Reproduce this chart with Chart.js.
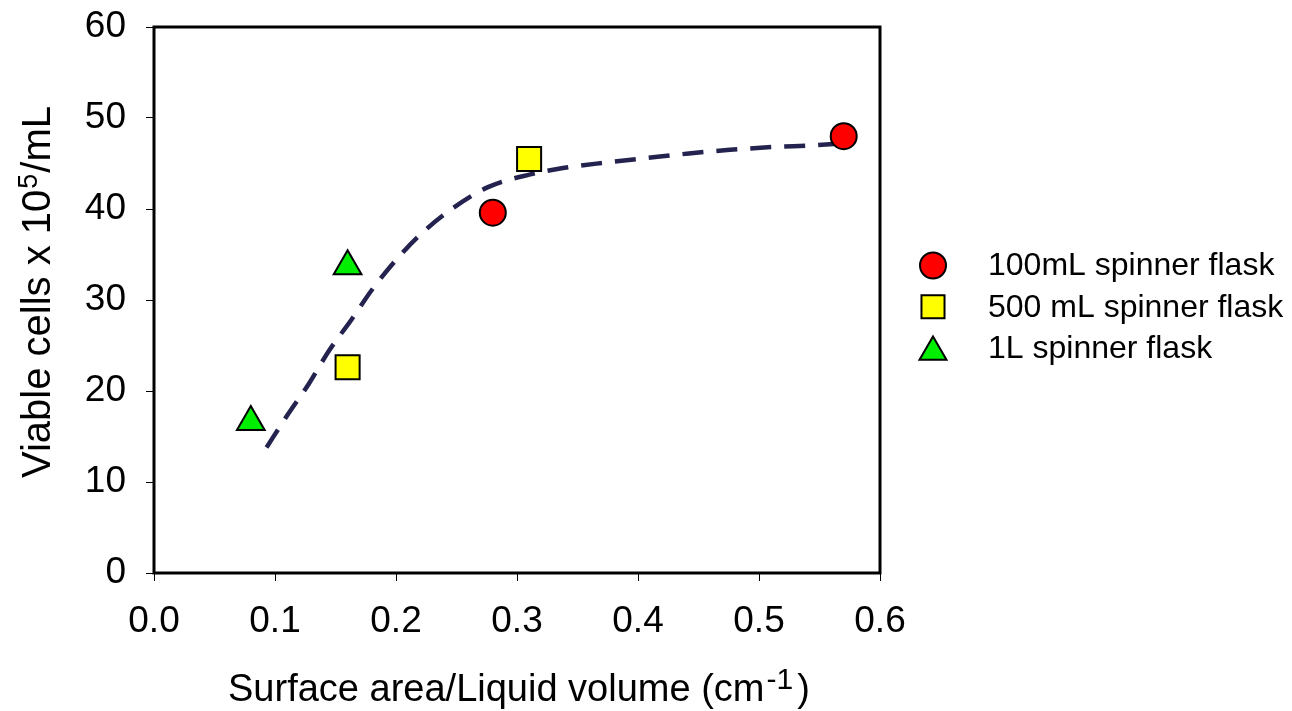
<!DOCTYPE html>
<html>
<head>
<meta charset="utf-8">
<script src="https://cdn.jsdelivr.net/npm/chart.js@4.4.1/dist/chart.umd.min.js"></script>
<style>
  body { margin: 0; background: #fff; }
</style>
</head>
<body>
<canvas id="chartFlask" width="1292" height="711"></canvas>
<script>
  // data
  const seriesNames = ['100mL spinner flask', '500 mL spinner flask', '1L spinner flask'];
  const flask100X = [0.28, 0.57];
  const flask100Y = [39.6, 48.0];
  const flask500X = [0.31, 0.16];
  const flask500Y = [45.5, 22.6];
  const flask1LX = [0.08, 0.16];
  const flask1LY = [16.6, 33.7];

  // dashed fitted curve
  const fitX = [0.093, 0.111, 0.128, 0.145, 0.163, 0.180, 0.200, 0.221, 0.245, 0.276, 0.311, 0.338, 0.373, 0.407, 0.442, 0.476, 0.510, 0.545, 0.570];
  const fitY = [13.8, 17.5, 20.8, 24.5, 27.8, 31.1, 34.4, 37.3, 39.9, 42.4, 43.8, 44.5, 45.1, 45.6, 46.1, 46.5, 46.8, 47.0, 47.2];

  const xTicks = [0, 0.1, 0.2, 0.3, 0.4, 0.5, 0.6];
  const yTicks = [0, 10, 20, 30, 40, 50, 60];

  const FONT = '"Liberation Sans", Arial, sans-serif';

  const pts = (xs, ys) => xs.map((x, i) => ({ x: x, y: ys[i] }));

  // text with superscript pieces, left aligned, baseline at y
  function drawRich(ctx, parts, x, y, size, supSize, rise) {
    let cx = x;
    parts.forEach(p => {
      ctx.font = (p.sup ? supSize : size) + 'px ' + FONT;
      cx += p.before || 0;
      ctx.fillText(p.t, cx, p.sup ? y - rise : y);
      cx += ctx.measureText(p.t).width + (p.after || 0);
    });
  }
  function richWidth(ctx, parts, size, supSize) {
    let w = 0;
    parts.forEach(p => {
      ctx.font = (p.sup ? supSize : size) + 'px ' + FONT;
      w += ctx.measureText(p.t).width + (p.before || 0) + (p.after || 0);
    });
    return w;
  }

  const frameAndText = {
    id: 'frameAndText',
    afterDraw(chart) {
      const ctx = chart.ctx;
      const a = chart.chartArea;
      ctx.save();
      // box around plot
      ctx.strokeStyle = '#000';
      ctx.lineWidth = 3;
      ctx.strokeRect(a.left, a.top, a.right - a.left, a.bottom - a.top);

      ctx.fillStyle = '#000';
      ctx.textBaseline = 'alphabetic';
      ctx.textAlign = 'left';

      // x title
      const xParts = [{ t: 'Surface area/Liquid volume (cm' }, { t: '-1', sup: true, before: 2, after: 4 }, { t: ')' }];
      drawRich(ctx, xParts, 228, 701, 38, 30, 12);

      // y title
      const yParts = [{ t: 'Viable cells x 10' }, { t: '5', sup: true, before: 1, after: 1 }, { t: '/mL' }];
      const yw = richWidth(ctx, yParts, 40, 27);
      ctx.save();
      ctx.translate(50, 292);
      ctx.rotate(-Math.PI / 2);
      drawRich(ctx, yParts, -yw / 2, 0, 40, 27, 13);
      ctx.restore();

      // legend
      const h = Chart.helpers;
      let row = 0;
      chart.data.datasets.forEach(ds => {
        if (!ds.inLegend) return;
        const cy = 265.5 + row * 41.3;
        const off = ds.pointStyle === 'triangle' ? ds.legendRadius / 4 : 0;
        ctx.fillStyle = ds.backgroundColor;
        ctx.strokeStyle = ds.borderColor;
        ctx.lineWidth = ds.borderWidth;
        h.drawPoint(ctx, { pointStyle: ds.pointStyle, radius: ds.legendRadius, rotation: 0, borderWidth: ds.borderWidth }, 933, cy + off);
        ctx.fillStyle = '#000';
        ctx.font = '32px ' + FONT;
        ctx.textBaseline = 'middle';
        ctx.fillText(ds.label, 988, cy + 1);
        ctx.textBaseline = 'alphabetic';
        row++;
      });
      ctx.restore();
    }
  };

  new Chart(document.getElementById('chartFlask'), {
    type: 'scatter',
    data: {
      datasets: [
        {
          label: seriesNames[0],
          data: pts(flask100X, flask100Y),
          pointStyle: 'circle',
          pointRadius: 13,
          legendRadius: 13,
          backgroundColor: '#ff0000',
          borderColor: '#000',
          borderWidth: 2,
          inLegend: true
        },
        {
          label: seriesNames[1],
          data: pts(flask500X, flask500Y),
          pointStyle: 'rect',
          pointRadius: 17,
          legendRadius: 16.3,
          backgroundColor: '#ffff00',
          borderColor: '#000',
          borderWidth: 2,
          inLegend: true
        },
        {
          label: seriesNames[2],
          data: pts(flask1LX, flask1LY),
          pointStyle: 'triangle',
          pointRadius: 16,
          legendRadius: 15.6,
          backgroundColor: '#00ee00',
          borderColor: '#000',
          borderWidth: 2,
          inLegend: true
        },
        {
          label: 'fit',
          type: 'line',
          data: pts(fitX, fitY),
          borderColor: '#24234f',
          borderWidth: 4.5,
          borderDash: [21, 13],
          pointRadius: 0,
          fill: false,
          cubicInterpolationMode: 'monotone'
        }
      ]
    },
    options: {
      responsive: false,
      animation: false,
      devicePixelRatio: 1,
      layout: { padding: { left: 0, top: 27, right: 412, bottom: 0 } },
      plugins: {
        legend: { display: false },
        tooltip: { enabled: false }
      },
      scales: {
        x: {
          type: 'linear',
          min: 0,
          max: 0.6,
          afterBuildTicks: s => { s.ticks = xTicks.map(v => ({ value: v })); },
          afterFit: s => { s.height = 138; s.paddingLeft = 0; s.paddingRight = 0; },
          ticks: {
            color: '#000',
            font: { family: FONT, size: 37 },
            padding: 19,
            callback: v => v.toFixed(1)
          },
          grid: { drawOnChartArea: false, drawTicks: true, tickLength: 8, color: '#000', lineWidth: 1 },
          border: { display: false }
        },
        y: {
          min: 0,
          max: 60,
          afterBuildTicks: s => { s.ticks = yTicks.map(v => ({ value: v })); },
          afterFit: s => { s.width = 154; s.paddingTop = 0; s.paddingBottom = 0; },
          ticks: {
            color: '#000',
            font: { family: FONT, size: 37 },
            padding: 20
          },
          grid: { drawOnChartArea: false, drawTicks: true, tickLength: 8, color: '#000', lineWidth: 1 },
          border: { display: false }
        }
      }
    },
    plugins: [frameAndText]
  });
</script>
</body>
</html>
